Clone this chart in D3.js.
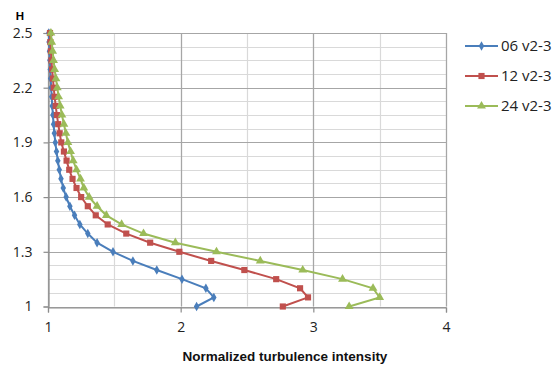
<!DOCTYPE html>
<html><head><meta charset="utf-8">
<script src="https://cdn.jsdelivr.net/npm/d3@7"></script>
<style>body{margin:0;background:#fff}svg{display:block}</style>
</head><body>
<script>
const heights = [1.00,1.05,1.10,1.15,1.20,1.25,1.30,1.35,1.40,1.45,1.50,1.55,1.60,1.65,1.70,1.75,1.80,1.85,1.90,1.95,2.00,2.05,2.10,2.15,2.20,2.25,2.30,2.35,2.40,2.45,2.50];
const s06 = [2.12,2.25,2.19,2.01,1.82,1.64,1.49,1.37,1.30,1.24,1.20,1.165,1.137,1.115,1.098,1.085,1.074,1.064,1.055,1.048,1.042,1.037,1.032,1.028,1.024,1.020,1.017,1.014,1.011,1.008,1.006];
const s12 = [2.77,2.96,2.90,2.72,2.48,2.23,1.99,1.77,1.59,1.45,1.36,1.30,1.25,1.215,1.185,1.16,1.14,1.12,1.10,1.088,1.077,1.067,1.058,1.050,1.043,1.037,1.031,1.026,1.022,1.018,1.015];
const s24 = [3.27,3.50,3.45,3.22,2.92,2.60,2.27,1.96,1.72,1.555,1.44,1.37,1.31,1.27,1.245,1.215,1.19,1.17,1.15,1.135,1.12,1.105,1.092,1.08,1.07,1.06,1.05,1.042,1.035,1.028,1.022];
const seriesNames = ["06 v2-3","12 v2-3","24 v2-3"];
const seriesColors = ["#4A7EBB","#C0504D","#9BBB59"];
const xTicks = [1,2,3,4];
const yTicks = [1,1.3,1.6,1.9,2.2,2.5];

const W=553,H=367;
const svg=d3.select("body").append("svg").attr("width",W).attr("height",H);
const x=d3.scaleLinear().domain([1,4]).range([48,446]);
const y=d3.scaleLinear().domain([1,2.5]).range([306.5,33]);

// minor grid
const xMinor=d3.range(1,4.01,0.5), yMinor=d3.range(1,2.501,0.075);
svg.append("g").selectAll("line").data(yMinor).join("line")
  .attr("x1",x(1)).attr("x2",x(4)).attr("y1",d=>Math.round(y(d))+0.5).attr("y2",d=>Math.round(y(d))+0.5)
  .attr("stroke","#d9d9d9").attr("stroke-width",1.2);
svg.append("g").selectAll("line").data(xMinor).join("line")
  .attr("y1",y(1)).attr("y2",y(2.5)).attr("x1",d=>Math.round(x(d))+0.5).attr("x2",d=>Math.round(x(d))+0.5)
  .attr("stroke","#d9d9d9").attr("stroke-width",1.2);
// major grid
svg.append("g").selectAll("line").data(yTicks).join("line")
  .attr("x1",x(1)).attr("x2",x(4)).attr("y1",d=>Math.round(y(d))+0.5).attr("y2",d=>Math.round(y(d))+0.5)
  .attr("stroke","#a6a6a6").attr("stroke-width",1.2);
svg.append("g").selectAll("line").data(xTicks).join("line")
  .attr("y1",y(1)).attr("y2",y(2.5)).attr("x1",d=>Math.round(x(d))+0.5).attr("x2",d=>Math.round(x(d))+0.5)
  .attr("stroke","#a6a6a6").attr("stroke-width",1.2);

// axes
const xa=svg.append("g").attr("transform",`translate(0,${Math.round(y(1))+0.5})`)
  .call(d3.axisBottom(x).tickValues(xTicks).tickFormat(d3.format("d")).tickSize(5).tickPadding(10));
const ya=svg.append("g").attr("transform",`translate(${Math.round(x(1))+0.5},0)`)
  .call(d3.axisLeft(y).tickValues(yTicks).tickFormat(d=>d===1?"1":d3.format(".1f")(d)).tickSize(5).tickPadding(11));
[xa,ya].forEach(a=>{
  a.selectAll(".domain").attr("stroke","#8c8c8c").attr("stroke-width",1.2);
  a.selectAll(".tick line").attr("stroke","#8c8c8c").attr("stroke-width",1.2);
  a.selectAll("text").attr("font-family","Open Sans, Liberation Sans, sans-serif").attr("font-size",14).attr("fill","#222");
});

svg.append("text").attr("x",20).attr("y",20).text("H")
  .attr("font-family","Liberation Sans, Arial, sans-serif").attr("font-weight","bold").attr("font-size",11.5).attr("text-anchor","middle");
svg.append("text").attr("x",285).attr("y",361).text("Normalized turbulence intensity")
  .attr("font-family","Liberation Sans, Arial, sans-serif").attr("font-weight","bold").attr("font-size",13.5).attr("text-anchor","middle").attr("fill","#111");

const allSeries=[s06,s12,s24];
const shapes=[d3.symbolDiamond,d3.symbolSquare,d3.symbolTriangle];
const sizes=[26,38,34];
const line=d3.line().x(d=>x(d[0])).y(d=>y(d[1]));
allSeries.forEach((s,i)=>{
  const pts=s.map((v,j)=>[v,heights[j]]);
  const g=svg.append("g");
  g.append("path").datum(pts).attr("d",line).attr("fill","none").attr("stroke",seriesColors[i]).attr("stroke-width",2);
  g.selectAll("path.m").data(pts).join("path").attr("class","m")
    .attr("transform",d=>`translate(${x(d[0])},${y(d[1])})`)
    .attr("d",d3.symbol().type(shapes[i]).size(sizes[i])).attr("fill",seriesColors[i]);
});

// legend
const lg=svg.append("g");
seriesNames.forEach((n,i)=>{
  const ly=46+i*30;
  lg.append("line").attr("x1",465).attr("x2",498).attr("y1",ly).attr("y2",ly).attr("stroke",seriesColors[i]).attr("stroke-width",2);
  lg.append("path").attr("transform",`translate(481.5,${ly})`).attr("d",d3.symbol().type(shapes[i]).size(sizes[i])).attr("fill",seriesColors[i]);
  lg.append("text").attr("x",501).attr("y",ly+5).text(n)
    .attr("font-family","Open Sans, Liberation Sans, sans-serif").attr("font-size",15).attr("fill","#222");
});
</script>
</body></html>
